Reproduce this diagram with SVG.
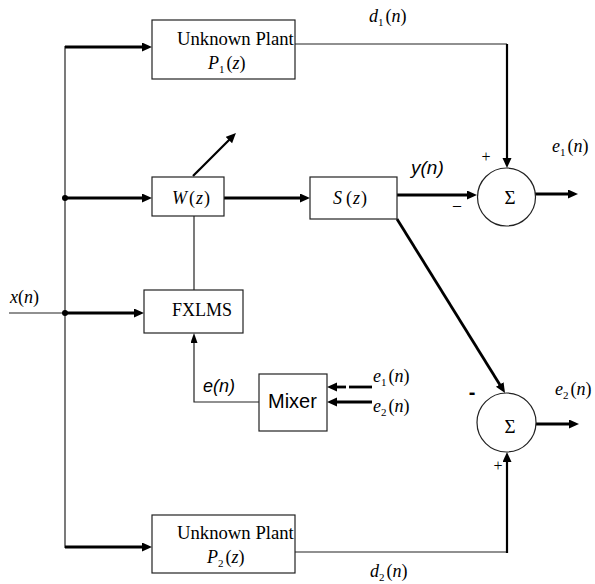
<svg xmlns="http://www.w3.org/2000/svg" width="595" height="584" viewBox="0 0 595 584">
<style>
.box{fill:#fff;stroke:#222;stroke-width:1.2}
.thin{fill:none;stroke:#222;stroke-width:1.2}
.thick{fill:none;stroke:#000;stroke-width:2.8}
.mid{fill:none;stroke:#000;stroke-width:2.2}
.serif{font-family:"Liberation Serif","Times New Roman",serif;fill:#000}
.sans{font-family:"Liberation Sans",Arial,sans-serif;fill:#000}
.it{font-style:italic}
.sub{font-size:11px;font-style:normal}
</style>
<defs>
<marker id="ah" markerUnits="userSpaceOnUse" markerWidth="12" markerHeight="10" refX="2" refY="4.5" orient="auto">
<path d="M0,0 L10,4.5 L0,9 z" fill="#000"/>
</marker>
<marker id="ahs" markerUnits="userSpaceOnUse" markerWidth="12" markerHeight="8" refX="2" refY="3.5" orient="auto">
<path d="M0,0 L10,3.5 L0,7 z" fill="#000"/>
</marker>
</defs>
<rect width="595" height="584" fill="#fff"/>

<g id="connectors">
<line class="thin" x1="65" y1="46" x2="65" y2="548"/>
<line class="thin" x1="9" y1="313" x2="65" y2="313"/>
<circle cx="65" cy="198" r="3" fill="#000"/>
<circle cx="65" cy="313" r="3" fill="#000"/>
<line class="thick" x1="65" y1="47" x2="144" y2="47" marker-end="url(#ah)"/>
<line class="thick" x1="65" y1="198" x2="144" y2="198" marker-end="url(#ah)"/>
<line class="thick" x1="65" y1="313" x2="136" y2="313" marker-end="url(#ah)"/>
<line class="thick" x1="65" y1="547" x2="144" y2="547" marker-end="url(#ah)"/>
<line class="mid" x1="193" y1="176" x2="230.3" y2="138.7" marker-end="url(#ah)"/>
<line class="thick" x1="224" y1="198" x2="302" y2="198" marker-end="url(#ah)"/>
<line class="thin" x1="194" y1="216" x2="194" y2="290"/>
<polyline class="thin" points="259,402 194,402 194,341" marker-end="url(#ahs)"/>
<line class="thick" x1="346" y1="387" x2="335" y2="387" marker-end="url(#ah)"/>
<line class="thick" x1="349" y1="387" x2="372" y2="387"/>
<line class="thick" x1="372" y1="402" x2="335" y2="402" marker-end="url(#ah)"/>
<line class="thick" x1="397" y1="195" x2="469" y2="195" marker-end="url(#ah)"/>
<line class="thick" x1="397" y1="219" x2="500.8" y2="386.2" marker-end="url(#ah)"/>
<polyline class="thin" points="295,44 507,44"/>
<line class="mid" x1="507" y1="44" x2="507" y2="160" marker-end="url(#ah)"/>
<polyline class="thin" points="295,552 507,552"/>
<line class="mid" x1="507" y1="553" x2="507" y2="460" marker-end="url(#ah)"/>
<line class="thick" x1="535" y1="194" x2="570" y2="194" marker-end="url(#ah)"/>
<line class="thick" x1="536" y1="424" x2="571" y2="424" marker-end="url(#ah)"/>
</g>

<g id="plant1">
<rect class="box" x="152" y="20" width="143" height="59"/>
<text class="serif" x="177" y="45" font-size="18.7">Unknown Plant</text>
<text class="serif" x="208" y="69" font-size="18"><tspan class="it">P</tspan><tspan class="sub" dy="4">1</tspan><tspan dy="-4" dx="2">(</tspan><tspan class="it">z</tspan>)</text>
</g>

<g id="plant2">
<rect class="box" x="152" y="515" width="143" height="58"/>
<text class="serif" x="177" y="539" font-size="18.7">Unknown Plant</text>
<text class="serif" x="207" y="563" font-size="18"><tspan class="it">P</tspan><tspan class="sub" dy="4">2</tspan><tspan dy="-4" dx="2">(</tspan><tspan class="it">z</tspan>)</text>
</g>

<g id="W">
<rect class="box" x="152" y="177" width="72" height="39"/>
<text class="serif" x="172" y="204" font-size="18"><tspan class="it">W</tspan><tspan dx="2">(</tspan><tspan class="it" dx="1">z</tspan><tspan dx="1">)</tspan></text>
</g>

<g id="S">
<rect class="box" x="310" y="177" width="87" height="42"/>
<text class="serif" x="333" y="204" font-size="18"><tspan class="it">S</tspan><tspan dx="4">(</tspan><tspan class="it" dx="1">z</tspan><tspan dx="1">)</tspan></text>
</g>

<g id="FXLMS">
<rect class="box" x="144" y="290" width="99" height="43"/>
<text class="serif" x="172" y="316" font-size="18">FXLMS</text>
</g>

<g id="Mixer">
<rect class="box" x="259" y="374" width="68" height="57"/>
<text class="sans" x="268" y="408" font-size="20">Mixer</text>
</g>

<g id="sum1">
<circle cx="506.5" cy="197" r="29" fill="#fff" stroke="#222" stroke-width="1.2"/>
<text class="serif" x="510" y="204" font-size="19" text-anchor="middle">Σ</text>
</g>

<g id="sum2">
<circle cx="506.5" cy="422.5" r="29.5" fill="#fff" stroke="#222" stroke-width="1.2"/>
<text class="serif" x="510" y="433" font-size="19" text-anchor="middle">Σ</text>
</g>

<g id="labels">
<text class="serif" x="10" y="303" font-size="18"><tspan class="it">x</tspan>(<tspan class="it">n</tspan>)</text>
<text class="sans it" x="203" y="392" font-size="18">e(n)</text>
<text class="sans it" x="411" y="174" font-size="19">y(n)</text>
<text class="serif" x="369" y="22" font-size="18"><tspan class="it">d</tspan><tspan class="sub" dy="4">1</tspan><tspan dy="-4" dx="2">(</tspan><tspan class="it">n</tspan>)</text>
<text class="serif" x="370" y="577" font-size="18"><tspan class="it">d</tspan><tspan class="sub" dy="4">2</tspan><tspan dy="-4" dx="2">(</tspan><tspan class="it">n</tspan>)</text>
<text class="serif" x="552" y="152" font-size="18"><tspan class="it">e</tspan><tspan class="sub" dy="4">1</tspan><tspan dy="-4" dx="2">(</tspan><tspan class="it">n</tspan>)</text>
<text class="serif" x="555" y="395" font-size="18"><tspan class="it">e</tspan><tspan class="sub" dy="4">2</tspan><tspan dy="-4" dx="2">(</tspan><tspan class="it">n</tspan>)</text>
<text class="serif" x="373" y="382" font-size="18"><tspan class="it">e</tspan><tspan class="sub" dy="4">1</tspan><tspan dy="-4" dx="2">(</tspan><tspan class="it">n</tspan>)</text>
<text class="serif" x="373" y="412" font-size="18"><tspan class="it">e</tspan><tspan class="sub" dy="4">2</tspan><tspan dy="-4" dx="2">(</tspan><tspan class="it">n</tspan>)</text>
<text class="serif" x="486" y="162" font-size="16" text-anchor="middle">+</text>
<text class="serif" x="498" y="471" font-size="16" text-anchor="middle">+</text>
<text class="serif" x="457" y="210" font-size="16" text-anchor="middle">–</text>
<text class="sans" x="472" y="399" font-size="20" font-weight="bold" text-anchor="middle">-</text>
</g>
</svg>
